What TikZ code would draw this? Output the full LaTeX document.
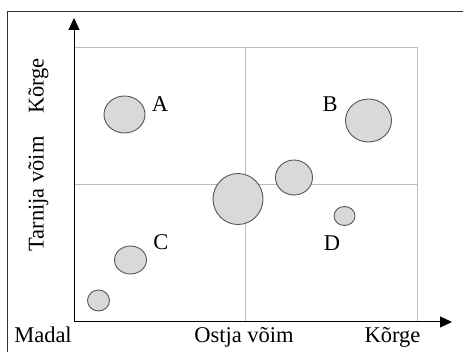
\documentclass[tikz,border=0pt]{standalone}
\usepackage{fontspec}
\setmainfont{Liberation Serif}
\usetikzlibrary{arrows.meta,shapes.geometric}
\definecolor{bubblefill}{HTML}{D9D9D9}
\definecolor{bubbleline}{HTML}{555555}
\definecolor{gridline}{HTML}{BEBEBE}
\begin{document}
\begin{tikzpicture}[x=1pt,y=-1pt,
  frame/.style={draw=black!80, line width=1pt},
  axis/.style={draw=black, line width=1pt, -{Triangle[length=12pt,width=11pt]}},
  gridln/.style={draw=gridline, line width=0.9pt},
  bubble/.style={ellipse, draw=bubbleline, fill=bubblefill, line width=0.9pt, inner sep=0pt},
  lbl/.style={font=\fontsize{22.5}{26}\selectfont, inner sep=0pt},
]
\useasboundingbox (0,0) rectangle (463,352);

% outer frame (left and top edges)
\coordinate (fb) at (7,352);
\coordinate (fc) at (7,12);
\coordinate (fr) at (463,12);
\draw[frame] (fb) -- (fc) -- (fr);

% axes anchors
\coordinate (O) at (74,322);
\coordinate (ytip) at (74,18);
\coordinate (xtip) at (452,322);

% quadrant grid
\coordinate (g1) at (74,47);
\coordinate (g2) at (417,47);
\coordinate (g3) at (417,322);
\coordinate (vm1) at (245,47);
\coordinate (vm2) at (245,322);
\coordinate (hm1) at (74,184);
\coordinate (hm2) at (417,184);
\draw[gridln] (g1) -- (g2) -- (g3);
\draw[gridln] (vm1) -- (vm2);
\draw[gridln] (hm1) -- (hm2);

% axes
\draw[axis] (O) -- (ytip);
\draw[axis] (O) -- (xtip);

% bubbles
\node[bubble, minimum width=41pt, minimum height=37pt] (bA) at (124.5,114.5) {};
\node[bubble, minimum width=46pt, minimum height=43pt] (bB) at (368.5,120.5) {};
\node[bubble, minimum width=50pt, minimum height=51pt] (bBig) at (238,199) {};
\node[bubble, minimum width=37pt, minimum height=35pt] (bMid) at (294,177.5) {};
\node[bubble, minimum width=21pt, minimum height=19pt] (bD) at (344.5,216) {};
\node[bubble, minimum width=32pt, minimum height=28pt] (bC) at (130.5,260) {};
\node[bubble, minimum width=22pt, minimum height=21pt] (bS) at (98.5,300.5) {};

% bubble labels
\node[lbl] (lA) at (160,104.5) {A};
\node[lbl] (lB) at (330,104) {B};
\node[lbl] (lC) at (161,242.5) {C};
\node[lbl] (lD) at (332,243) {D};

% axis labels
\node[lbl, anchor=base] (xlow) at (43,343) {Madal};
\node[lbl, anchor=base] (xname) at (244,343) {Ostja võim};
\node[lbl, anchor=base] (xhigh) at (392.5,343) {Kõrge};
\node[lbl, anchor=base, rotate=90] (yname) at (43.5,194) {Tarnija võim};
\node[lbl, anchor=base, rotate=90] (yhigh) at (43.5,86) {Kõrge};
\end{tikzpicture}
\end{document}
